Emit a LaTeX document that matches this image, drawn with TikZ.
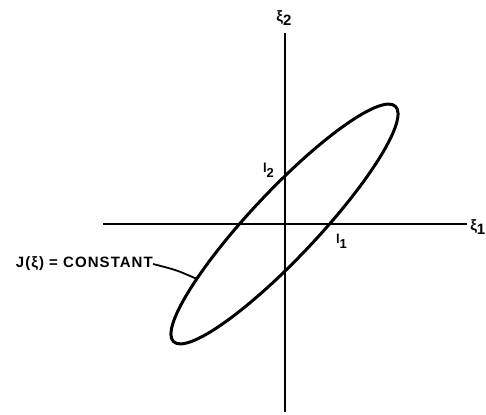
\documentclass[tikz,border=0pt]{standalone}
\usepackage{fontspec}
\setmainfont{Liberation Sans}
\begin{document}
\begin{tikzpicture}[x=1pt,y=1pt,
  axis/.style={line width=2pt},
  curve/.style={line width=3pt},
  leader/.style={line width=1.8pt},
  lbl/.style={inner sep=0pt,font=\bfseries\fontsize{15}{17}\selectfont},
  sublbl/.style={inner sep=0pt,font=\bfseries\fontsize{13}{15}\selectfont}]
\useasboundingbox (-284.5,-190) rectangle (201.5,224);
% axes
\coordinate (xl) at (-181.5,0);
\coordinate (xr) at (182.5,0);
\coordinate (yt) at (0,191);
\coordinate (yb) at (0,-188);
\draw[axis] (xl) -- (xr);
\draw[axis] (yt) -- (yb);
% ellipse J = const
\draw[curve,rotate=46.7] (0,0) ellipse (161.7 and 33.4);
% labels
\node[lbl] (xi2) at (-0.5,206) {ξ\raisebox{-4pt}{2}};
\node[lbl,anchor=east] (xi1) at (201,-3) {ξ\raisebox{-4pt}{1}};
\node[sublbl] (l2) at (-16,54) {l\raisebox{-5pt}{2}};
\node[sublbl] (l1) at (57,-17) {l\raisebox{-5pt}{1}};
\node[lbl,anchor=east] (J) at (-131.5,-40) {\addfontfeature{LetterSpace=7}J(ξ) = CONSTANT};
\coordinate (onell) at (-87.5,-55);
\draw[leader] (J.east) .. controls (-108,-46) .. (onell);
\end{tikzpicture}
\end{document}
